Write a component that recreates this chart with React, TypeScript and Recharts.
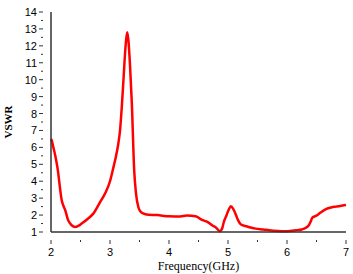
import React from 'react';
import { LineChart, Line, XAxis, YAxis, Label } from 'recharts';

// frequency (GHz) and VSWR
const freq = [
  2.0, 2.01, 2.04, 2.07, 2.1, 2.12, 2.15, 2.18, 2.21, 2.24, 2.29, 2.35, 2.41, 2.46,
  2.52, 2.63, 2.72, 2.83, 2.92, 3.0, 3.06, 3.1, 3.14, 3.17, 3.2, 3.23, 3.26, 3.29,
  3.31, 3.34, 3.37, 3.41, 3.44, 3.48, 3.52, 3.56, 3.65, 3.8, 4.0, 4.19, 4.3, 4.45,
  4.57, 4.65, 4.73, 4.8, 4.86, 4.9, 4.93, 4.97, 5.01, 5.05, 5.09, 5.13, 5.17, 5.22,
  5.3, 5.4, 5.47, 5.6, 5.7, 5.85, 5.95, 6.05, 6.15, 6.25, 6.32, 6.37, 6.4, 6.43,
  6.49, 6.57, 6.66, 6.75, 6.83, 6.92, 7.0,
];
const vswr = [
  6.5, 6.44, 6.0, 5.55, 5.0, 4.55, 3.67, 2.9, 2.55, 2.3, 1.7, 1.4, 1.3, 1.36,
  1.5, 1.8, 2.1, 2.75, 3.3, 4.0, 4.85, 5.45, 6.2, 7.0, 8.4, 10.1, 11.8, 12.8,
  12.4, 10.8, 8.6, 4.65, 3.3, 2.48, 2.2, 2.1, 2.02, 2.0, 1.93, 1.92, 1.97, 1.93,
  1.7, 1.6, 1.4, 1.25, 1.05, 1.2, 1.6, 1.95, 2.3, 2.52, 2.35, 2.05, 1.7, 1.44,
  1.35, 1.25, 1.2, 1.15, 1.1, 1.06, 1.05, 1.06, 1.1, 1.15, 1.25, 1.4, 1.6, 1.85,
  1.95, 2.15, 2.35, 2.45, 2.5, 2.55, 2.6,
];

const xTicks = [2, 2.5, 3, 3.5, 4, 4.5, 5, 5.5, 6, 6.5, 7];
const yTicks = [
  1, 1.5, 2, 2.5, 3, 3.5, 4, 4.5, 5, 5.5, 6, 6.5, 7, 7.5, 8, 8.5, 9, 9.5,
  10, 10.5, 11, 11.5, 12, 12.5, 13, 13.5, 14,
];

const data = freq.map((f, i) => ({ f, v: vswr[i] }));

const tickFont = { fontFamily: 'Liberation Sans, Arial, sans-serif', fontSize: 11, fill: '#000' };

const XTick = (props: any) => {
  const { x, y, payload } = props;
  const major = Number.isInteger(payload.value);
  return (
    <g>
      <line x1={x} x2={x} y1={y} y2={y + (major ? 4 : 2)} stroke="#333" strokeWidth={1} />
      {major && (
        <text x={x} y={y + 16} textAnchor="middle" {...tickFont}>
          {payload.value}
        </text>
      )}
    </g>
  );
};

const YTick = (props: any) => {
  const { x, y, payload } = props;
  const major = Number.isInteger(payload.value);
  return (
    <g>
      <line x1={x} x2={x - (major ? 4 : 2)} y1={y} y2={y} stroke="#333" strokeWidth={1} />
      {major && (
        <text x={x - 6} y={y + 4} textAnchor="end" {...tickFont}>
          {payload.value}
        </text>
      )}
    </g>
  );
};

export default function App() {
  return (
    <div style={{ position: 'fixed', left: 0, top: 0, background: '#fff' }}>
      <LineChart width={353} height={274} data={data} margin={{ top: 12, right: 7, bottom: 0, left: 0 }}>
        <XAxis
          dataKey="f"
          type="number"
          domain={[2, 7]}
          ticks={xTicks}
          interval={0}
          tick={<XTick />}
          tickLine={false}
          axisLine={{ stroke: '#333', strokeWidth: 1.5 }}
          height={42}
        >
          <Label
            value="Frequency(GHz)"
            position="insideBottom"
            offset={4}
            style={{ fontFamily: 'Liberation Serif, Times New Roman, serif', fontSize: 12, fill: '#000' }}
          />
        </XAxis>
        <YAxis
          type="number"
          domain={[1, 14]}
          ticks={yTicks}
          interval={0}
          tick={<YTick />}
          tickLine={false}
          axisLine={{ stroke: '#333', strokeWidth: 1.5 }}
          width={51}
        >
          <Label
            value="VSWR"
            angle={-90}
            position="insideLeft"
            offset={8}
            style={{ fontFamily: 'Liberation Serif, Times New Roman, serif', fontSize: 11, fontWeight: 'bold', fill: '#000', textAnchor: 'middle' }}
          />
        </YAxis>
        <Line
          dataKey="v"
          type="monotone"
          stroke="#ff0000"
          strokeWidth={2.5}
          dot={false}
          isAnimationActive={false}
        />
      </LineChart>
    </div>
  );
}
